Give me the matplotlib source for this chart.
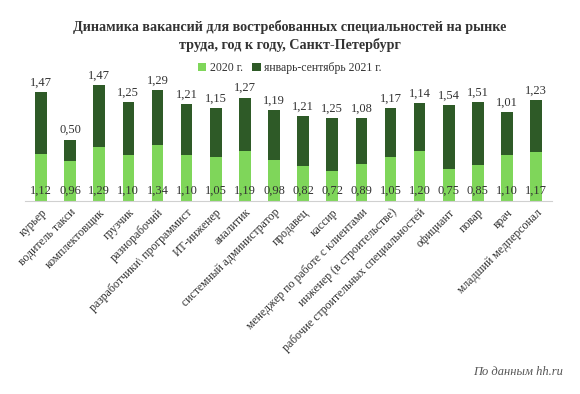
import matplotlib.pyplot as plt
import numpy as np

# data
categories = ['курьер', 'водитель такси', 'комплектовщик', 'грузчик', 'разнорабочий',
              'разработчики\\ программист', 'ИТ-инженер', 'аналитик',
              'системный администратор', 'продавец', 'кассир',
              'менеджер по работе с клиентами', 'инженер (в строительстве)',
              'рабочие строительных специальностей', 'официант', 'повар', 'врач',
              'младший медперсонал']
v2020 = [1.12, 0.96, 1.29, 1.10, 1.34, 1.10, 1.05, 1.19, 0.98, 0.82, 0.72,
         0.89, 1.05, 1.20, 0.75, 0.85, 1.10, 1.17]
v2021 = [1.47, 0.50, 1.47, 1.25, 1.29, 1.21, 1.15, 1.27, 1.19, 1.21, 1.25,
         1.08, 1.17, 1.14, 1.54, 1.51, 1.01, 1.23]
series_names = ['2020 г.', 'январь-сентябрь 2021 г.']

light = '#7fd65a'
dark = '#2e5a27'
plt.rcParams['font.family'] = ['Liberation Serif', 'DejaVu Serif']

fig = plt.figure(figsize=(5.8, 3.94), dpi=100)
ax = fig.add_axes([0.043, 0.49, 0.909, 0.32])

x = np.arange(len(categories))
a = np.array(v2020)
b = np.array(v2021)
ax.bar(x, a, width=0.4, color=light, label=series_names[0])
ax.bar(x, b, width=0.4, bottom=a, color=dark, label=series_names[1])

for i in range(len(x)):
    ax.text(x[i], 0.25, ('%.2f' % a[i]).replace('.', ','), ha='center', va='center',
            fontsize=9, color='#333333')
    ax.text(x[i], a[i] + b[i] + 0.08, ('%.2f' % b[i]).replace('.', ','), ha='center',
            va='bottom', fontsize=9, color='#333333')

ax.set_xlim(-0.55, len(x) - 0.45)
ax.set_ylim(0, 3.0)
ax.set_yticks([])
ax.set_xticks(x)
ax.set_xticklabels(categories, rotation=45, ha='right', rotation_mode='anchor',
                   fontsize=8.5, color='#333333')
ax.tick_params(axis='x', length=0, pad=4)
for s in ['top', 'right', 'left']:
    ax.spines[s].set_visible(False)
ax.spines['bottom'].set_color('#d0d0d0')

fig.text(0.5, 0.908, 'Динамика вакансий для востребованных специальностей на рынке\nтруда, год к году, Санкт-Петербург',
         ha='center', va='center', fontsize=10.2, fontweight='bold', color='#333333',
         linespacing=1.35)
fig.legend(loc='center', bbox_to_anchor=(0.5, 0.827), ncol=2, frameon=False,
           fontsize=8.5, handlelength=0.7, handleheight=0.7, handletextpad=0.3,
           columnspacing=0.8, labelcolor='#333333')
fig.text(0.97, 0.055, 'По данным hh.ru', ha='right', va='center', fontsize=9,
         style='italic', color='#555555')

fig.savefig('out.png', dpi=100)
